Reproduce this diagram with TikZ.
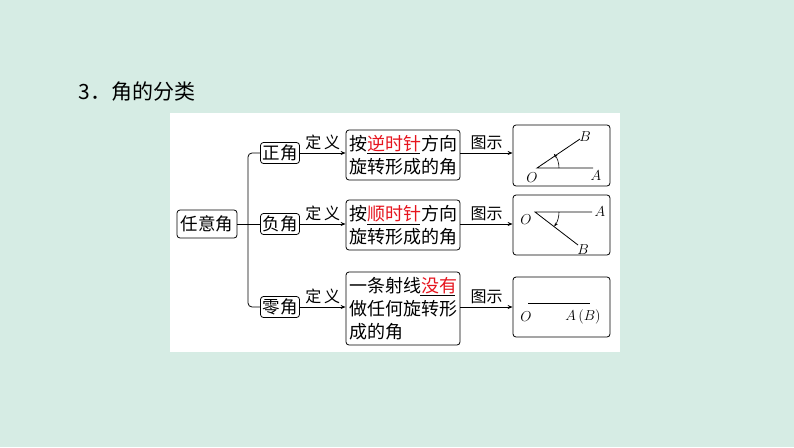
\documentclass[tikz,border=0pt]{standalone}
\usepackage{fontspec}
\newfontfamily\cjk{Noto Sans CJK SC}
\usetikzlibrary{arrows.meta}
\definecolor{bgreen}{RGB}{214,236,228}
\definecolor{kred}{RGB}{230,20,30}
\tikzset{
  kbox/.style={draw,rounded corners=3pt,line width=0.8pt,inner sep=2pt},
  lbl/.style={font=\cjk\fontsize{16}{16}\selectfont,inner sep=0pt},
  arr/.style={-{Stealth[length=5pt,width=4pt]},line width=0.8pt},
}
\newcommand{\hl}[1]{\textcolor{kred}{#1}}
\begin{document}
\begin{tikzpicture}[x=1pt,y=1pt,yscale=-1]
\useasboundingbox (0,0) rectangle (794,447);
\fill[bgreen] (0,0) rectangle (794,447);
\fill[white] (170,113) rectangle (620,352);
\node[anchor=west,font=\cjk\fontsize{21}{21}\selectfont] (title) at (75,92) {3．角的分类};

% left boxes
\node[kbox,lbl,minimum width=60,minimum height=28,font=\cjk\fontsize{17.5}{17.5}\selectfont] (any) at (207,224) {任意角};
\node[kbox,lbl,minimum width=39,minimum height=21,font=\cjk\fontsize{17.5}{17.5}\selectfont] (pos) at (280,153) {正角};
\node[kbox,lbl,minimum width=39,minimum height=21,font=\cjk\fontsize{17.5}{17.5}\selectfont] (neg) at (280,224) {负角};
\node[kbox,lbl,minimum width=39,minimum height=21,font=\cjk\fontsize{17.5}{17.5}\selectfont] (zero) at (280,307) {零角};
\draw[line width=0.8pt,rounded corners=4pt] (pos.west) -- (248,153) -- (248,307) -- (zero.west);
\draw[line width=0.8pt] (any.east) -- (neg.west);

% definition boxes
\node[kbox,minimum width=114,minimum height=50,align=left,font=\cjk\fontsize{18}{23}\selectfont] (d1) at (403,155) {按\hl{逆时针}方向\\旋转形成的角};
\node[kbox,minimum width=114,minimum height=50,align=left,font=\cjk\fontsize{18}{23}\selectfont] (d2) at (403,225) {按\hl{顺时针}方向\\旋转形成的角};
\node[kbox,minimum width=114,minimum height=73,align=left,font=\cjk\fontsize{18}{23}\selectfont] (d3) at (403,308.5) {一条射线\hl{没有}\\做任何旋转形\\成的角};
\draw[line width=0.6pt] (367,153) -- (420,153);
\draw[line width=0.6pt] (367,224) -- (420,224);
\draw[line width=0.6pt] (420,295) -- (455,295);

% figure boxes
\node[kbox,minimum width=97,minimum height=61] (f1) at (561.5,155.5) {};
\node[kbox,minimum width=97,minimum height=60] (f2) at (561.5,225) {};
\node[kbox,minimum width=97,minimum height=60] (f3) at (561.5,307) {};

% arrows
\foreach \a/\b/\y in {pos/d1/153,neg/d2/224,zero/d3/307}{
  \draw[arr] (\a.east |- 0,\y) -- (\b.west |- 0,\y) node[midway,above=3pt,lbl] {定\,义};
}
\foreach \a/\b/\y in {d1/f1/153,d2/f2/224,d3/f3/307}{
  \draw[arr] (\a.east |- 0,\y) -- (\b.west |- 0,\y) node[midway,above=3pt,lbl] {图示};
}

% figure 1
\coordinate (o1) at (537,168);
\draw[line width=0.8pt] (593,168) -- (o1) -- (580,139);
\draw[-{Stealth[length=4pt,width=3pt]},line width=0.6pt] (559,168) arc[start angle=0,end angle=-40,radius=22];
\node[font=\fontsize{15}{15}\selectfont] at (532,178) {$O$};
\node[font=\fontsize{15}{15}\selectfont] at (596,176) {$A$};
\node[font=\fontsize{15}{15}\selectfont] at (585,137) {$B$};

% figure 2
\coordinate (o2) at (535,212);
\draw[line width=0.8pt] (592,212) -- (o2) -- (578,245);
\draw[-{Stealth[length=4pt,width=3pt]},line width=0.6pt] (559,212) arc[start angle=0,end angle=37,radius=24];
\node[font=\fontsize{15}{15}\selectfont] at (526,220) {$O$};
\node[font=\fontsize{15}{15}\selectfont] at (600,212) {$A$};
\node[font=\fontsize{15}{15}\selectfont] at (583,250) {$B$};

% figure 3
\draw[line width=0.8pt] (528,303) -- (590,303);
\node[font=\fontsize{15}{15}\selectfont] at (526,317) {$O$};
\node[font=\fontsize{15}{15}\selectfont] at (583,317) {$A\,(B)$};
\end{tikzpicture}
\end{document}
